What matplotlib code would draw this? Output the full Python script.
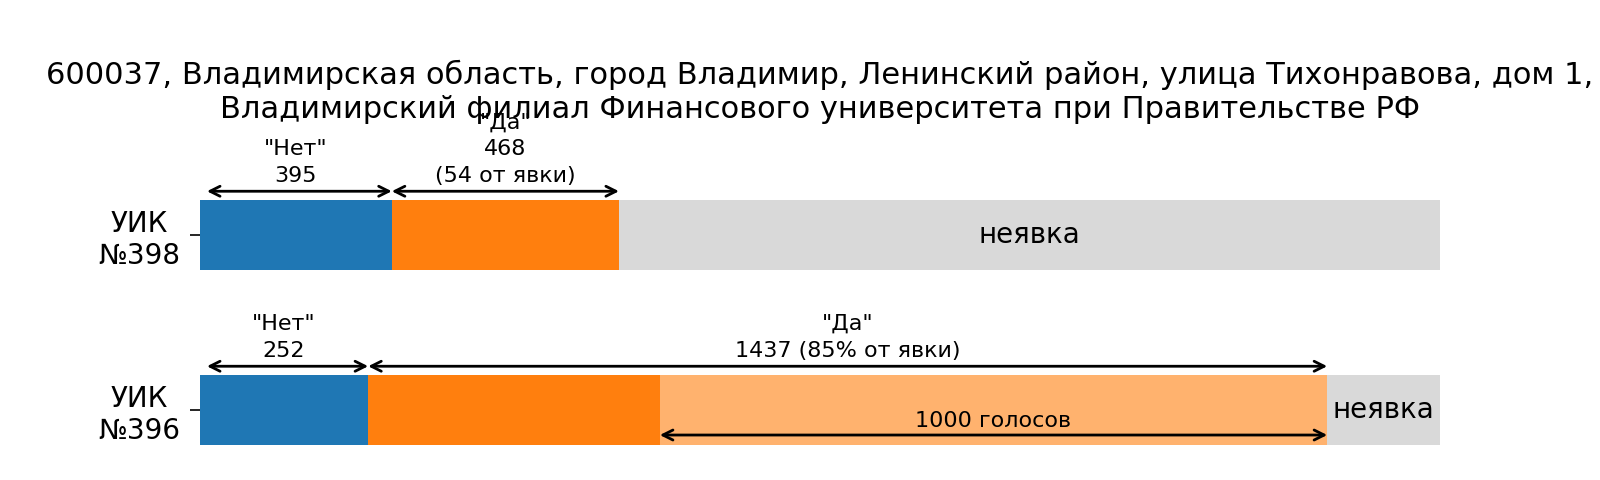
import matplotlib
matplotlib.use("Agg")
import matplotlib.pyplot as plt

# ---- data ----
uik_labels = ["УИК\n№398", "УИК\n№396"]
votes_no = [395, 252]
votes_yes = [468, 1437]
registered = [2554, 1858]
yes_text = ["\"Да\"\n468\n(54 от явки)", "\"Да\"\n1437 (85% от явки)"]
no_text = ["\"Нет\"\n395", "\"Нет\"\n252"]
highlight_votes = [0, 1000]
highlight_text = "1000 голосов"
absent_text = "неявка"
title = ("600037, Владимирская область, город Владимир, Ленинский район, улица Тихонравова, дом 1,\n"
         "Владимирский филиал Финансового университета при Правительстве РФ")

C_NO = "#1f77b4"
C_YES = "#ff7f0e"
C_ABS = "#d9d9d9"

fig = plt.figure(figsize=(16, 4.8), dpi=100)
ax = fig.add_axes([0.125, 35 / 480, 0.775, 245 / 480])

H = 0.4
ys = list(range(len(uik_labels)))
for i, y in enumerate(ys):
    n = registered[i]
    f_no = votes_no[i] / n
    f_yes = votes_yes[i] / n
    f_hi = highlight_votes[i] / n
    ax.barh(y, f_no, left=0, height=H, color=C_NO)
    ax.barh(y, f_yes - f_hi, left=f_no, height=H, color=C_YES)
    if f_hi > 0:
        ax.barh(y, f_hi, left=f_no + f_yes - f_hi, height=H, color=C_YES, alpha=0.6, linewidth=0)
    ax.barh(y, 1 - f_no - f_yes, left=f_no + f_yes, height=H, color=C_ABS)

    ay = y - H / 2 - 0.05
    ap = dict(arrowstyle="<->", color="black", lw=2, mutation_scale=18)
    ax.annotate("", xy=(0, ay), xytext=(f_no, ay), annotation_clip=False,
                arrowprops=dict(ap, shrinkA=0, shrinkB=5))
    ax.annotate("", xy=(f_no, ay), xytext=(f_no + f_yes, ay), annotation_clip=False,
                arrowprops=dict(ap, shrinkA=0, shrinkB=0))
    ax.annotate(no_text[i], xy=(f_no / 2, ay), xytext=(0, 4), textcoords="offset points",
                ha="center", va="bottom", fontsize=16, linespacing=1.42, annotation_clip=False)
    ax.annotate(yes_text[i], xy=(f_no + f_yes / 2, ay), xytext=(0, 4), textcoords="offset points",
                ha="center", va="bottom", fontsize=16, linespacing=1.42, annotation_clip=False)
    ax.text((f_no + f_yes + 1) / 2, y, absent_text, ha="center", va="center", fontsize=20)
    if f_hi > 0:
        hy = y + 0.143
        x0 = f_no + f_yes - f_hi
        ax.annotate("", xy=(x0, hy), xytext=(f_no + f_yes, hy),
                    arrowprops=dict(ap, shrinkA=0, shrinkB=0))
        ax.annotate(highlight_text, xy=(x0 + f_hi / 2, hy), xytext=(0, 3), textcoords="offset points",
                    ha="center", va="bottom", fontsize=16)

ax.set_xlim(0, 1)
ax.set_ylim(len(ys) - 1 + 0.2, -0.2)
ax.set_yticks(ys)
ax.set_yticklabels(uik_labels, fontsize=20, ha="center")
ax.tick_params(axis="y", length=7, width=1.2, pad=36.5)
ax.set_xticks([])
for s in ax.spines.values():
    s.set_visible(False)

fig.text(820 / 1600, 1 - 124 / 480, title, ha="center", va="bottom", fontsize=22)

fig.savefig("out.png", dpi=100)
